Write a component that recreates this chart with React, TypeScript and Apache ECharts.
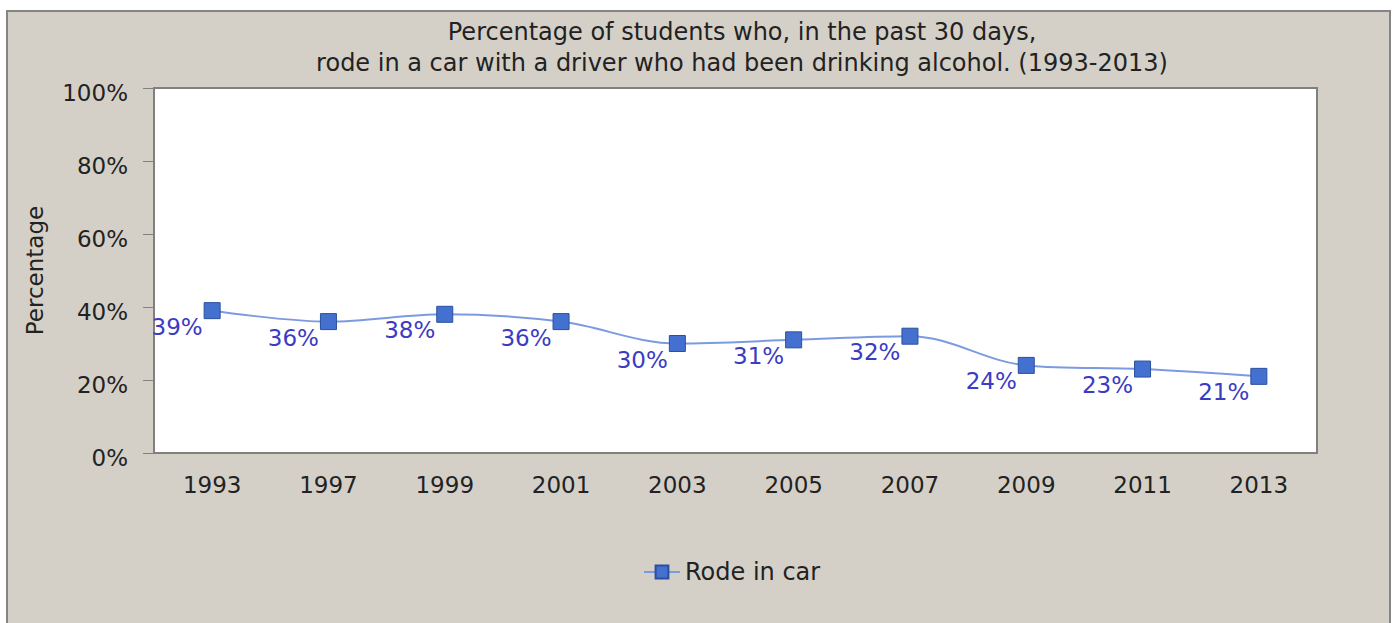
import React, { useEffect, useRef } from "react";
import * as echarts from "echarts";

const years = ["1993", "1997", "1999", "2001", "2003", "2005", "2007", "2009", "2011", "2013"];
const rodeInCar = [39, 36, 38, 36, 30, 31, 32, 24, 23, 21];
const seriesName = "Rode in car";
const titleLines = [
  "Percentage of students who, in the past 30 days,",
  "rode in a car with a driver who had been drinking alcohol. (1993-2013)",
];
const yAxisName = "Percentage";

const FONT = "DejaVu Sans";

export default function App() {
  const ref = useRef<HTMLDivElement>(null);
  useEffect(() => {
    if (!ref.current) return;
    const chart = echarts.init(ref.current, undefined, { renderer: "svg" });
    chart.setOption({
      animation: false,
      backgroundColor: "#ffffff",
      textStyle: { fontFamily: FONT },
      graphic: [
        {
          type: "rect",
          z: -10,
          silent: true,
          shape: { x: 7, y: 11, width: 1383, height: 640 },
          style: { fill: "#d4d0c8", stroke: "#858585", lineWidth: 2 },
        },
      ],
      title: {
        text: titleLines.join("\n"),
        left: 737,
        top: 11,
        textAlign: "center",
        textStyle: {
          fontFamily: FONT,
          fontSize: 24,
          fontWeight: "normal",
          color: "#222222",
          lineHeight: 31,
        },
      },
      legend: {
        left: 643,
        top: 560,
        padding: 0,
        itemWidth: 36,
        itemHeight: 16,
        itemGap: 4,
        textStyle: { fontFamily: FONT, fontSize: 24, color: "#222222" },
        data: [seriesName],
      },
      grid: {
        left: 154,
        right: 79,
        top: 88,
        bottom: 170,
        show: true,
        backgroundColor: "#ffffff",
        borderColor: "#808080",
        borderWidth: 2,
      },
      xAxis: {
        type: "category",
        data: years,
        boundaryGap: true,
        axisLine: { lineStyle: { color: "#808080", width: 2 } },
        axisTick: { alignWithLabel: true, length: 12, lineStyle: { color: "#808080", width: 1 } },
        axisLabel: { fontFamily: FONT, fontSize: 23, color: "#222222", margin: 20 },
        splitLine: { show: false },
      },
      yAxis: {
        type: "value",
        min: 0,
        max: 100,
        interval: 20,
        name: yAxisName,
        nameLocation: "middle",
        nameGap: 108,
        nameRotate: 90,
        nameTextStyle: { fontFamily: FONT, fontSize: 23, color: "#222222" },
        axisLine: { show: true, lineStyle: { color: "#808080", width: 2 } },
        axisTick: { show: true, length: 11, lineStyle: { color: "#808080", width: 1 } },
        axisLabel: {
          margin: 26,
          formatter: (v: number) => "{t|" + v + "%}",
          rich: {
            t: {
              fontFamily: FONT,
              fontSize: 23,
              color: "#222222",
              padding: [10, 0, 0, 0],
            },
          },
        },
        splitLine: { show: false },
      },
      series: [
        {
          name: seriesName,
          type: "line",
          data: rodeInCar,
          smooth: 0.35,
          symbol: "rect",
          symbolSize: 16,
          lineStyle: { color: "#7b9be0", width: 2 },
          itemStyle: { color: "#4471d0", borderColor: "#2a4f9e", borderWidth: 1 },
          label: {
            show: true,
            position: "left",
            distance: 1,
            offset: [0, 16],
            fontFamily: FONT,
            fontSize: 23,
            color: "#3b3bc4",
            formatter: (p: any) => p.value + "%",
          },
        },
      ],
    });
    return () => chart.dispose();
  }, []);
  return (
    <div
      ref={ref}
      style={{ position: "fixed", left: 0, top: 0, width: 1396, height: 623 }}
    />
  );
}
